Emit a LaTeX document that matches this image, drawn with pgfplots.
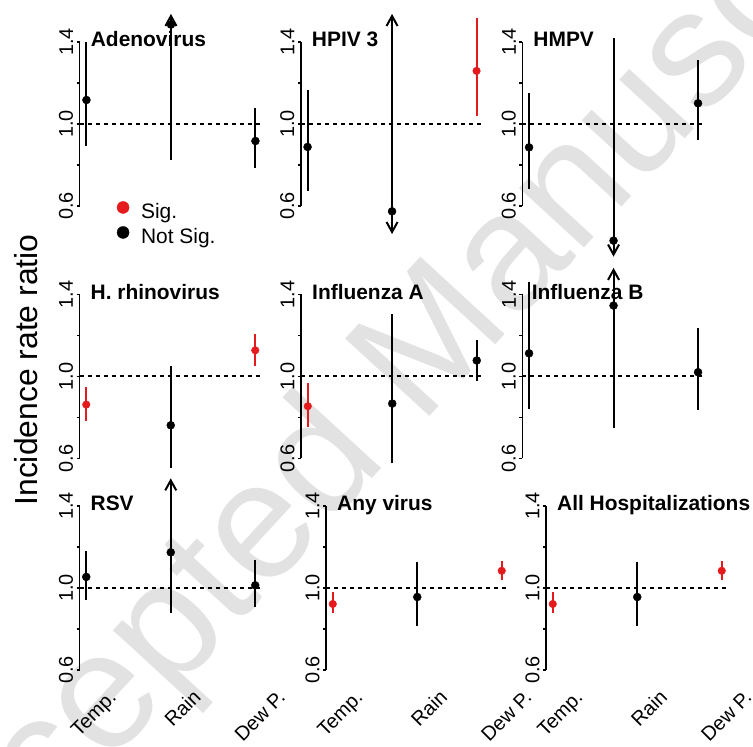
\documentclass[border=0pt]{standalone}
\usepackage{fontspec}
\setmainfont{Liberation Sans}
\usepackage{pgfplots}
\pgfplotsset{compat=1.18}
\usetikzlibrary{arrows.meta}
\definecolor{sigred}{RGB}{228,26,28}
\definecolor{wmgray}{RGB}{226,226,226}
\newcommand{\fs}[1]{\fontsize{#1}{#1}\selectfont}

\pgfplotsset{
  panel/.style={
    scale only axis, width=182.5bp, height=164bp,
    xmin=0.92, xmax=3.08, ymin=0.6, ymax=1.4,
    axis x line=none, axis y line*=left,
    y axis line style={-, line width=1.5bp},
    ytick={0.6,0.8,1.0,1.2,1.4},
    yticklabels={0.6,,1.0,,1.4},
    tick align=outside, major tick length=3bp,
    ytick style={line width=1.2bp, black},
    yticklabel style={rotate=90, anchor=south, font=\fs{20}},
    /pgf/number format/assume math mode=true,
    clip=false, anchor=south west,
  },
  ci/.style={black, line width=2bp, no marks},
  cis/.style={sigred, line width=2bp, no marks},
  up/.style={-{Straight Barb[length=10bp,width=11bp]}},
  dn/.style={{Straight Barb[length=10bp,width=11bp]}-},
  both/.style={{Straight Barb[length=10bp,width=11bp]}-{Straight Barb[length=10bp,width=11bp]}},
  pt/.style={black, only marks, mark=*, mark size=4bp},
  ps/.style={sigred, only marks, mark=*, mark size=3.8bp},
  ref/.style={black, line width=1.8bp, dash pattern=on 4bp off 4bp, no marks},
}
\tikzset{
  ttl/.style={anchor=base west, inner sep=0pt, font=\bfseries\fs{21}},
  xlab/.style={rotate=45, anchor=base east, inner sep=0pt, font=\fs{20}},
}

\begin{document}
\begin{tikzpicture}
\useasboundingbox (0,0) rectangle (753bp,747bp);
\node[rotate=47.4, text=wmgray, font=\fs{167}] at (414bp,377bp) {Accepted Manuscript};
\node[rotate=90, font=\fs{32}] at (26.5bp,377bp) {Incidence rate ratio};

% row 1
\begin{axis}[panel, at={(79.7bp,541bp)},
  legend style={at={(axis cs:1.36,0.51)}, anchor=west, draw=none, fill=none,
    font=\fs{21}, row sep=4bp, inner sep=0pt,
    nodes={inner sep=0pt, text height=15bp, text depth=4bp},
    /tikz/every odd column/.append style={column sep=12bp}},
  legend cell align=left,
  legend image code/.code={\draw[#1] plot coordinates {(0bp,5.5bp)};},
]
  \addlegendimage{ps, mark size=6bp}
  \addlegendentry{Sig.}
  \addlegendimage{pt, mark size=6bp}
  \addlegendentry{Not Sig.}
  \addplot[ref] coordinates {(0.92,1)(3.08,1)};
  \addplot[ci] coordinates {(1,0.893)(1,1.401)};
  \addplot[ci, up] coordinates {(2,0.824)(2,1.537)};
  \addplot[ci] coordinates {(3,0.785)(3,1.078)};
  \addplot[pt] coordinates {(1,1.117)(2,1.485)(3,0.917)};
  \node[ttl] at (axis cs:1.05,1.376) {Adenovirus};
\end{axis}

\begin{axis}[panel, at={(300.8bp,541bp)}]
  \addplot[ref] coordinates {(0.92,1)(3.08,1)};
  \addplot[ci] coordinates {(1,0.675)(1,1.167)};
  \addplot[ci, both] coordinates {(2,0.463)(2,1.537)};
  \addplot[cis] coordinates {(3,1.040)(3,1.519)};
  \addplot[pt] coordinates {(1,0.888)(2,0.574)};
  \addplot[ps] coordinates {(3,1.259)};
  \node[ttl] at (axis cs:1.05,1.376) {HPIV 3};
\end{axis}

\begin{axis}[panel, at={(522.3bp,541bp)}]
  \addplot[ref] coordinates {(0.92,1)(3.08,1)};
  \addplot[ci] coordinates {(1,0.683)(1,1.150)};
  \addplot[ci, dn] coordinates {(2,0.353)(2,1.418)};
  \addplot[ci] coordinates {(3,0.922)(3,1.312)};
  \addplot[pt] coordinates {(1,0.886)(2,0.431)(3,1.101)};
  \node[ttl] at (axis cs:1.05,1.376) {HMPV};
\end{axis}

% row 2
\begin{axis}[panel, at={(79.5bp,288.7bp)}]
  \addplot[ref] coordinates {(0.92,1)(3.08,1)};
  \addplot[cis] coordinates {(1,0.783)(1,0.948)};
  \addplot[ci] coordinates {(2,0.555)(2,1.052)};
  \addplot[cis] coordinates {(3,1.049)(3,1.208)};
  \addplot[pt] coordinates {(2,0.761)};
  \addplot[ps] coordinates {(1,0.862)(3,1.127)};
  \node[ttl] at (axis cs:1.05,1.376) {H. rhinovirus};
\end{axis}

\begin{axis}[panel, at={(301bp,288.7bp)}]
  \addplot[ref] coordinates {(0.92,1)(3.08,1)};
  \addplot[cis] coordinates {(1,0.752)(1,0.965)};
  \addplot[ci] coordinates {(2,0.575)(2,1.306)};
  \addplot[ci] coordinates {(3,0.979)(3,1.179)};
  \addplot[pt] coordinates {(2,0.867)(3,1.077)};
  \addplot[ps] coordinates {(1,0.854)};
  \node[ttl] at (axis cs:1.05,1.376) {Influenza A};
\end{axis}

\begin{axis}[panel, at={(522.3bp,288.7bp)}]
  \addplot[ref] coordinates {(0.92,1)(3.08,1)};
  \addplot[ci] coordinates {(1,0.839)(1,1.459)};
  \addplot[ci, up] coordinates {(2,0.746)(2,1.529)};
  \addplot[ci] coordinates {(3,0.836)(3,1.236)};
  \addplot[pt] coordinates {(1,1.112)(2,1.345)(3,1.020)};
  \node[ttl] at (axis cs:1.03,1.376) {Influenza B};
\end{axis}

% row 3
\begin{axis}[panel, at={(79.5bp,77bp)}]
  \addplot[ref] coordinates {(0.92,1)(3.08,1)};
  \addplot[ci] coordinates {(1,0.943)(1,1.179)};
  \addplot[ci, up] coordinates {(2,0.878)(2,1.535)};
  \addplot[ci] coordinates {(3,0.907)(3,1.135)};
  \addplot[pt] coordinates {(1,1.054)(2,1.174)(3,1.013)};
  \node[ttl] at (axis cs:1.05,1.376) {RSV};
  \node[xlab] at (axis cs:1.37,0.46) {Temp.};
  \node[xlab] at (axis cs:2.37,0.46) {Rain};
  \node[xlab] at (axis cs:3.37,0.46) {Dew P.};
\end{axis}

\begin{axis}[panel, at={(326bp,77bp)}]
  \addplot[ref] coordinates {(0.92,1)(3.08,1)};
  \addplot[cis] coordinates {(1,0.878)(1,0.979)};
  \addplot[ci] coordinates {(2,0.817)(2,1.128)};
  \addplot[cis] coordinates {(3,1.040)(3,1.133)};
  \addplot[pt] coordinates {(2,0.956)};
  \addplot[ps] coordinates {(1,0.922)(3,1.084)};
  \node[ttl] at (axis cs:1.05,1.376) {Any virus};
  \node[xlab] at (axis cs:1.37,0.46) {Temp.};
  \node[xlab] at (axis cs:2.37,0.46) {Rain};
  \node[xlab] at (axis cs:3.37,0.46) {Dew P.};
\end{axis}

\begin{axis}[panel, at={(546bp,77bp)}]
  \addplot[ref] coordinates {(0.92,1)(3.08,1)};
  \addplot[cis] coordinates {(1,0.878)(1,0.979)};
  \addplot[ci] coordinates {(2,0.817)(2,1.128)};
  \addplot[cis] coordinates {(3,1.040)(3,1.133)};
  \addplot[pt] coordinates {(2,0.956)};
  \addplot[ps] coordinates {(1,0.922)(3,1.084)};
  \node[ttl] at (axis cs:1.05,1.376) {All Hospitalizations};
  \node[xlab] at (axis cs:1.37,0.46) {Temp.};
  \node[xlab] at (axis cs:2.37,0.46) {Rain};
  \node[xlab] at (axis cs:3.37,0.46) {Dew P.};
\end{axis}
\end{tikzpicture}
\end{document}
